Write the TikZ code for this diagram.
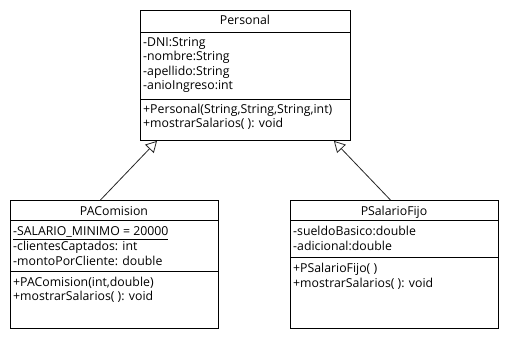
\documentclass[tikz,border=0pt]{standalone}
\usepackage{fontspec}
\setmainfont{Open Sans}
\usetikzlibrary{arrows.meta,calc,positioning}

\tikzset{
  clase/.style={draw=black,line width=0.9pt,anchor=north west,inner sep=0pt,fill=white},
  titulo/.style={inner sep=0pt,font=\fontsize{12.3}{14}\selectfont,text height=9pt,text depth=3pt},
  miembro/.style={anchor=west,inner sep=0pt,font=\fontsize{12.3}{14}\selectfont,text height=9pt,text depth=3pt},
  hereda/.style={draw=black!85,line width=0.8pt,-{Triangle[open,length=11pt,width=12pt]}}
}

\begin{document}
\begin{tikzpicture}[x=1pt,y=-1pt]

    \useasboundingbox[fill=white] (0,0) rectangle (510,340);

    % clase padre
    \node[clase,minimum width=210,minimum height=130] (personal) at (140,10) {};
    \node[titulo] (personalT) at (245,21) {Personal};
    \draw[line width=0.9pt] ($(personal.north west)+(0,22)$) -- ($(personal.north east)+(0,22)$);
    \node[miembro] (pDni) at (143,43) {-DNI:String};
    \node[miembro] (pNombre) at (143,57.5) {-nombre:String};
    \node[miembro] (pApellido) at (143,72) {-apellido:String};
    \node[miembro] (pAnio) at (143,86.5) {-anioIngreso:int};
    \draw[line width=0.9pt] ($(personal.north west)+(0,89)$) -- ($(personal.north east)+(0,89)$);
    \node[miembro] (pCons) at (143,110) {+Personal(String,String,String,int)};
    \node[miembro] (pMostrar) at (143,124) {+mostrarSalarios( ): void};

    % hijo izquierdo
    \node[clase,minimum width=208,minimum height=128] (pacomision) at (10,200) {};
    \node[titulo] (pacomisionT) at (114,212) {PAComision};
    \draw[line width=0.9pt] ($(pacomision.north west)+(0,20)$) -- ($(pacomision.north east)+(0,20)$);
    \node[miembro] (cMinimo) at (13,232.5) {\underline{-SALARIO\_MINIMO = 20000}};
    \node[miembro] (cClientes) at (13,247) {-clientesCaptados: int};
    \node[miembro] (cMonto) at (13,262) {-montoPorCliente: double};
    \draw[line width=0.9pt] ($(pacomision.north west)+(0,71)$) -- ($(pacomision.north east)+(0,71)$);
    \node[miembro] (cCons) at (13,283) {+PAComision(int,double)};
    \node[miembro] (cMostrar) at (13,297) {+mostrarSalarios( ): void};

    % hijo derecho
    \node[clase,minimum width=208,minimum height=128] (psalariofijo) at (290,200) {};
    \node[titulo] (psalariofijoT) at (394,212) {PSalarioFijo};
    \draw[line width=0.9pt] ($(psalariofijo.north west)+(0,20)$) -- ($(psalariofijo.north east)+(0,20)$);
    \node[miembro] (fSueldo) at (293,232.5) {-sueldoBasico:double};
    \node[miembro] (fAdicional) at (293,247) {-adicional:double};
    \draw[line width=0.9pt] ($(psalariofijo.north west)+(0,57)$) -- ($(psalariofijo.north east)+(0,57)$);
    \node[miembro] (fCons) at (293,269) {+PSalarioFijo( )};
    \node[miembro] (fMostrar) at (293,284) {+mostrarSalarios( ): void};

    % herencia
    \coordinate (desdeA) at ($(pacomision.north)+(-14,0)$);
    \coordinate (haciaA) at ($(personal.south west)+(17,0)$);
    \coordinate (desdeB) at ($(psalariofijo.north)+(-4,0)$);
    \coordinate (haciaB) at ($(personal.south east)+(-17,0)$);
    \draw[hereda] (desdeA) -- (haciaA);
    \draw[hereda] (desdeB) -- (haciaB);

\end{tikzpicture}
\end{document}
